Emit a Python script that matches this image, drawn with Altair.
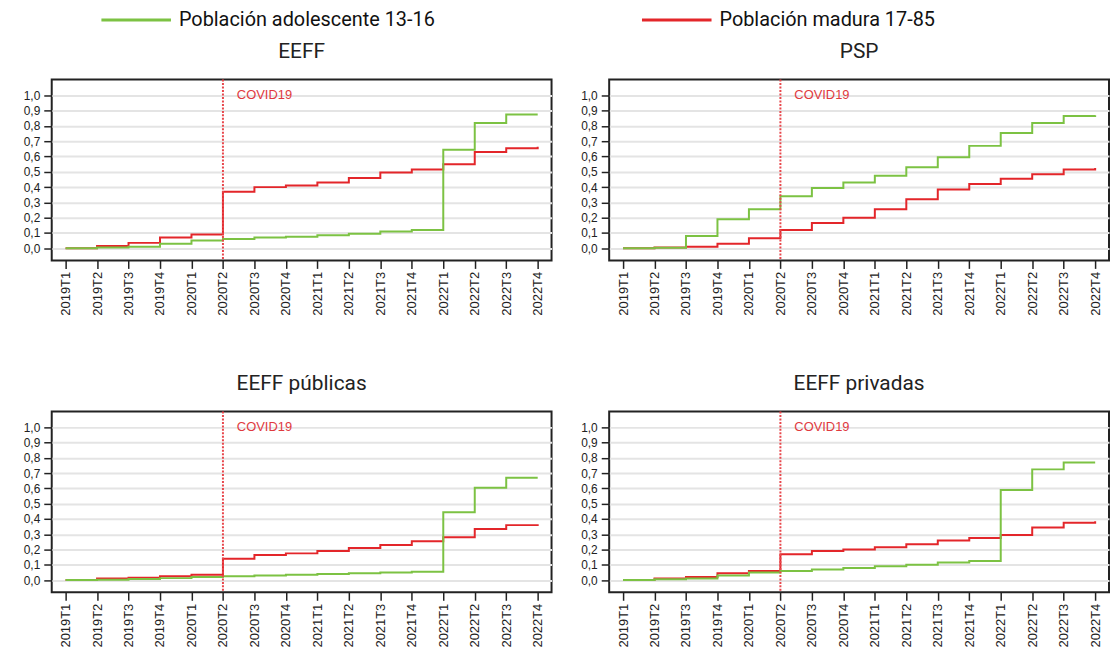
import altair as alt
import pandas as pd

quarters = ["2019T1", "2019T2", "2019T3", "2019T4", "2020T1", "2020T2", "2020T3", "2020T4",
            "2021T1", "2021T2", "2021T3", "2021T4", "2022T1", "2022T2", "2022T3", "2022T4"]
panels = ["EEFF", "PSP", "EEFF públicas", "EEFF privadas"]
series = ["Población adolescente 13-16", "Población madura 17-85"]
colors = ["#7cc243", "#e3262a"]

eeff_adol = [0.0, 0.005, 0.01, 0.03, 0.05, 0.06, 0.07, 0.075, 0.085, 0.095, 0.11, 0.12, 0.645, 0.82, 0.875, 0.875]
eeff_mad = [0.0, 0.015, 0.035, 0.07, 0.09, 0.37, 0.40, 0.41, 0.43, 0.46, 0.495, 0.515, 0.55, 0.63, 0.655, 0.665]
psp_adol = [0.0, 0.003, 0.08, 0.19, 0.255, 0.34, 0.395, 0.43, 0.475, 0.53, 0.595, 0.67, 0.755, 0.82, 0.865, 0.87]
psp_mad = [0.0, 0.005, 0.01, 0.03, 0.065, 0.12, 0.165, 0.2, 0.255, 0.32, 0.385, 0.42, 0.455, 0.485, 0.515, 0.525]
pub_adol = [0.0, 0.003, 0.008, 0.013, 0.02, 0.025, 0.03, 0.035, 0.04, 0.045, 0.05, 0.055, 0.445, 0.605, 0.67, 0.67]
pub_mad = [0.0, 0.01, 0.015, 0.025, 0.035, 0.14, 0.165, 0.175, 0.19, 0.21, 0.23, 0.255, 0.28, 0.335, 0.36, 0.365]
priv_adol = [0.0, 0.005, 0.01, 0.03, 0.05, 0.06, 0.07, 0.08, 0.09, 0.1, 0.115, 0.125, 0.59, 0.725, 0.77, 0.77]
priv_mad = [0.0, 0.01, 0.02, 0.045, 0.06, 0.17, 0.19, 0.2, 0.215, 0.235, 0.26, 0.275, 0.295, 0.345, 0.375, 0.385]

panel_values = {
    "EEFF": (eeff_adol, eeff_mad),
    "PSP": (psp_adol, psp_mad),
    "EEFF públicas": (pub_adol, pub_mad),
    "EEFF privadas": (priv_adol, priv_mad),
}

covid_quarter = "2020T2"
covid_label = "COVID19"
covid_level = 1.0
y_ticks = [0.0, 0.1, 0.2, 0.3, 0.4, 0.5, 0.6, 0.7, 0.8, 0.9, 1.0]

xdef = alt.X(
    "quarter:O", sort=quarters,
    scale=alt.Scale(type="point", padding=0.44),
    axis=alt.Axis(title=None, labelAngle=270, labelAlign="right", labelBaseline="middle",
                  labelPadding=3, tickSize=8, domain=False),
)
ydef = alt.Y(
    "value:Q",
    scale=alt.Scale(domain=[-0.08, 1.104], nice=False, zero=False),
    axis=alt.Axis(title=None, values=y_ticks, grid=True, domain=False, tickSize=8,
                  labelPadding=4,
                  labelExpr="replace(format(datum.value, '.1f'), '.', ',')"),
)
color_enc = alt.Color(
    "series:N",
    scale=alt.Scale(domain=series, range=colors),
    legend=alt.Legend(
        title=None, orient="none", legendX=75, legendY=-70, direction="horizontal",
        symbolType="M-10,0L10,0", symbolSize=49, symbolStrokeWidth=3,
        labelFontSize=20, labelFont="Roboto", labelColor="#111", labelOffset=33,
        labelLimit=500, columnPadding=202,
    ),
)


def make_panel(name):
    adol, mad = panel_values[name]
    rows = []
    for s, vals in ((series[1], mad), (series[0], adol)):
        for q, v in zip(quarters, vals):
            rows.append({"quarter": q, "value": v, "series": s})
    df = pd.DataFrame(rows)
    ann = pd.DataFrame({"quarter": [covid_quarter], "value": [covid_level], "label": [covid_label]})

    rule = alt.Chart(ann).mark_rule(color="#e8474c", strokeWidth=2, strokeDash=[2, 1.5]).encode(x=xdef)
    txt = alt.Chart(ann).mark_text(
        align="left", baseline="middle", dx=14, fontSize=13, font="Liberation Sans", color="#e03a3e"
    ).encode(x=xdef, y=ydef, text="label:N")
    lines = alt.Chart(df).mark_line(interpolate="step-after", strokeWidth=2).encode(
        x=xdef, y=ydef, color=color_enc
    )
    return alt.layer(lines, rule, txt).properties(
        width=503, height=182,
        title=alt.Title(name, fontSize=21, font="Roboto", fontWeight="normal", color="#222",
                        baseline="alphabetic", offset=0, anchor="middle"),
    )


chart = alt.concat(
    *[make_panel(p) for p in panels], columns=2, spacing={"row": 55, "column": 27}
).resolve_scale(color="shared").properties(
    padding={"left": 14, "top": 0, "right": 0, "bottom": 0}
).configure_view(
    stroke="#222", strokeWidth=2
).configure_axis(
    labelFont="Liberation Sans", labelColor="#222", tickColor="#222", tickWidth=1.5,
    gridColor="#e4e4e4", gridWidth=2
).configure_axisX(
    labelFontSize=13
).configure_axisY(
    labelFontSize=12
)

chart.save("out.html", embed_options={"renderer": "svg", "actions": False})
